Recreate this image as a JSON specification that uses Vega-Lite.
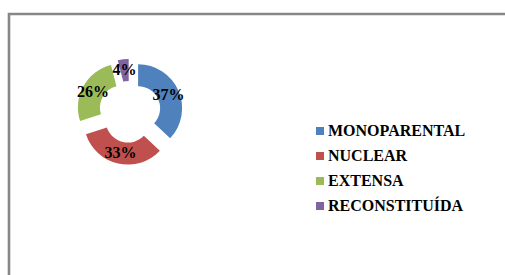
{
  "$schema": "https://vega.github.io/schema/vega-lite/v6.json",
  "width": 520,
  "height": 280,
  "padding": {"left": 9, "top": 14, "right": -24, "bottom": -19},
  "autosize": {"type": "none"},
  "background": "white",
  "view": {"stroke": "#878787", "strokeWidth": 2.6, "fill": "white"},
  "data": {
    "values": [
      {"categoria": "MONOPARENTAL", "valor": 0.37},
      {"categoria": "NUCLEAR", "valor": 0.33},
      {"categoria": "EXTENSA", "valor": 0.26},
      {"categoria": "RECONSTITUÍDA", "valor": 0.04}
    ]
  },
  "encoding": {
    "theta": {"field": "valor", "type": "quantitative", "stack": true},
    "order": {"field": "valor", "sort": "descending"},
    "color": {
      "field": "categoria",
      "type": "nominal",
      "sort": ["MONOPARENTAL", "NUCLEAR", "EXTENSA", "RECONSTITUÍDA"],
      "scale": {
        "domain": ["MONOPARENTAL", "NUCLEAR", "EXTENSA", "RECONSTITUÍDA"],
        "range": ["#4F81BD", "#C0504D", "#9BBB59", "#8064A2"]
      },
      "legend": {
        "title": null,
        "orient": "none",
        "legendX": 303,
        "legendY": 109,
        "padding": 0,
        "symbolType": "square",
        "symbolSize": 64,
        "symbolOpacity": 1,
        "symbolStrokeWidth": 0,
        "labelFont": "Liberation Serif",
        "labelFontWeight": "bold",
        "labelFontSize": 16,
        "labelColor": "#000000",
        "labelOffset": 0,
        "rowPadding": 9
      }
    }
  },
  "layer": [
    {
      "layer": [
        {"mark": {"type": "arc", "outerRadius": 44, "innerRadius": 22, "x": 120.8, "y": 97.8, "xOffset": 8.3, "yOffset": -3.6},
         "encoding": {"opacity": {"condition": {"test": "datum.categoria === 'MONOPARENTAL'", "value": 1}, "value": 0}}},
        {"mark": {"type": "text", "radius": 33, "x": 120.8, "y": 97.8, "xOffset": 8.3, "yOffset": -3.6, "font": "Liberation Serif", "fontWeight": "bold", "fontSize": 16, "align": "center", "baseline": "middle"},
         "encoding": {"text": {"field": "valor", "format": ".0%"}, "color": {"value": "#000000"}, "opacity": {"condition": {"test": "datum.categoria === 'MONOPARENTAL'", "value": 1}, "value": 0}}}
      ]
    },
    {
      "layer": [
        {"mark": {"type": "arc", "outerRadius": 44, "innerRadius": 22, "x": 120.8, "y": 97.8, "xOffset": -2.0, "yOffset": 8.8},
         "encoding": {"opacity": {"condition": {"test": "datum.categoria === 'NUCLEAR'", "value": 1}, "value": 0}}},
        {"mark": {"type": "text", "radius": 33, "x": 120.8, "y": 97.8, "xOffset": -2.0, "yOffset": 8.8, "font": "Liberation Serif", "fontWeight": "bold", "fontSize": 16, "align": "center", "baseline": "middle"},
         "encoding": {"text": {"field": "valor", "format": ".0%"}, "color": {"value": "#000000"}, "opacity": {"condition": {"test": "datum.categoria === 'NUCLEAR'", "value": 1}, "value": 0}}}
      ]
    },
    {
      "layer": [
        {"mark": {"type": "arc", "outerRadius": 44, "innerRadius": 22, "x": 120.8, "y": 97.8, "xOffset": -7.9, "yOffset": -4.3},
         "encoding": {"opacity": {"condition": {"test": "datum.categoria === 'EXTENSA'", "value": 1}, "value": 0}}},
        {"mark": {"type": "text", "radius": 33, "x": 120.8, "y": 97.8, "xOffset": -7.9, "yOffset": -4.3, "font": "Liberation Serif", "fontWeight": "bold", "fontSize": 16, "align": "center", "baseline": "middle"},
         "encoding": {"text": {"field": "valor", "format": ".0%"}, "color": {"value": "#000000"}, "opacity": {"condition": {"test": "datum.categoria === 'EXTENSA'", "value": 1}, "value": 0}}}
      ]
    },
    {
      "layer": [
        {"mark": {"type": "arc", "outerRadius": 44, "innerRadius": 22, "x": 120.8, "y": 97.8, "xOffset": -1.1, "yOffset": -8.9},
         "encoding": {"opacity": {"condition": {"test": "datum.categoria === 'RECONSTITUÍDA'", "value": 1}, "value": 0}}},
        {"mark": {"type": "text", "radius": 33, "x": 120.8, "y": 97.8, "xOffset": -1.1, "yOffset": -8.9, "font": "Liberation Serif", "fontWeight": "bold", "fontSize": 16, "align": "center", "baseline": "middle"},
         "encoding": {"text": {"field": "valor", "format": ".0%"}, "color": {"value": "#000000"}, "opacity": {"condition": {"test": "datum.categoria === 'RECONSTITUÍDA'", "value": 1}, "value": 0}}}
      ]
    }
  ]
}
